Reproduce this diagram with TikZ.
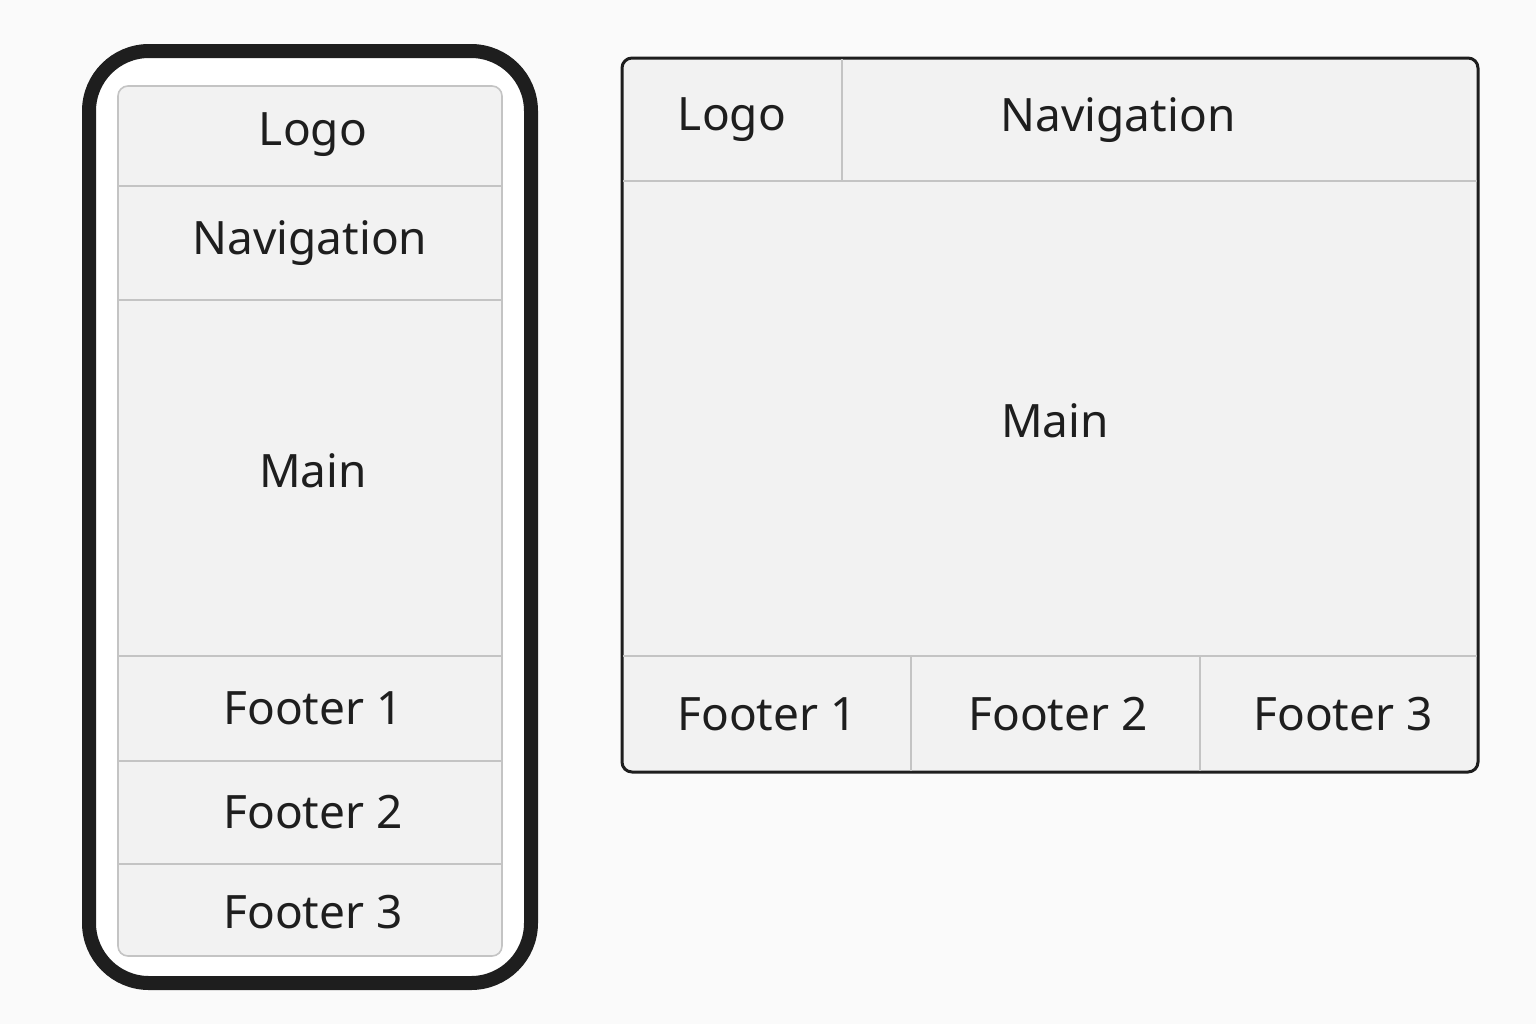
\documentclass[tikz,border=0pt]{standalone}
\usepackage{fontspec}
\setmainfont{Noto Sans}
\definecolor{bg}{HTML}{FAFAFA}
\definecolor{panel}{HTML}{F2F2F2}
\definecolor{sep}{HTML}{C4C4C4}
\definecolor{ink}{HTML}{1E1E1E}
\begin{document}
\begin{tikzpicture}[x=0.5pt,y=-0.5pt,
  lbl/.style={font=\fontsize{23}{26}\selectfont, text=ink},
  sepline/.style={draw=sep, line width=0.8pt}]
\fill[bg] (0,0) rectangle (1536,1024);
\useasboundingbox (0,0) rectangle (1536,1024);
% phone
\draw[ink, line width=7pt, fill=white, rounded corners=30pt] (89,51) rectangle (531,983);
\draw[sep, line width=0.8pt, fill=panel, rounded corners=5pt] (118,86) rectangle (502,956);
\foreach \y in {186,300,656,761,864} \draw[sepline] (118,\y) -- (502,\y);
\node[lbl] (pl) at (313,135) {Logo};
\node[lbl] (pn) at (310,243) {Navigation};
\node[lbl] (pm) at (313,471) {Main};
\node[lbl] (pf1) at (313,708) {Footer 1};
\node[lbl] (pf2) at (313,812) {Footer 2};
\node[lbl] (pf3) at (313,912) {Footer 3};
% desktop
\draw[ink, line width=1.5pt, fill=panel, rounded corners=5pt] (622,58) rectangle (1478,772);
\draw[sepline] (623,181) -- (1477,181);
\draw[sepline] (842,59) -- (842,181);
\draw[sepline] (623,656) -- (1477,656);
\draw[sepline] (911,656) -- (911,771);
\draw[sepline] (1200,656) -- (1200,771);
\node[lbl] (dl) at (732,120) {Logo};
\node[lbl] (dn) at (1118,120) {Navigation};
\node[lbl] (dm) at (1055,421) {Main};
\node[lbl] (df1) at (767,714) {Footer 1};
\node[lbl] (df2) at (1058,714) {Footer 2};
\node[lbl] (df3) at (1343,714) {Footer 3};
\end{tikzpicture}
\end{document}
